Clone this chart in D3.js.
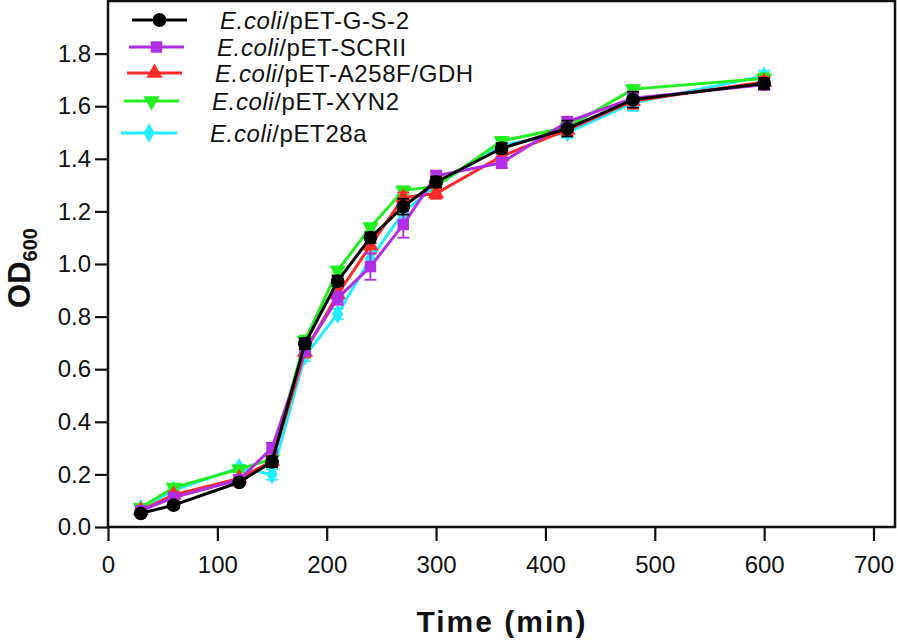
<!DOCTYPE html>
<html>
<head>
<meta charset="utf-8">
<script src="https://cdn.jsdelivr.net/npm/d3@7"></script>
<style>
  body { margin: 0; background: #fff; }
  svg { display: block; font-family: Arial, "Liberation Sans", sans-serif; }
</style>
</head>
<body>
<svg id="svg" width="898" height="641"></svg>
<script>
// time points (min)
const times = [30, 60, 120, 150, 180, 210, 240, 270, 300, 360, 420, 480, 600];

const names = ["pET-G-S-2", "pET-SCRII", "pET-A258F/GDH", "pET-XYN2", "pET28a"];
const colors = ["#000000", "#b22ee6", "#ff2a2a", "#22ee22", "#22eeff"];
const shapes = ["circle", "square", "triangle", "triangleDown", "diamond"];

// OD600 values
const gs2   = [0.052, 0.083, 0.170, 0.248, 0.697, 0.935, 1.100, 1.218, 1.312, 1.440, 1.515, 1.625, 1.686];
const scrii = [0.062, 0.112, 0.180, 0.300, 0.670, 0.870, 0.990, 1.150, 1.335, 1.385, 1.540, 1.630, 1.682];
const gdh   = [0.063, 0.122, 0.185, 0.250, 0.665, 0.885, 1.070, 1.252, 1.268, 1.410, 1.510, 1.620, 1.692];
const xyn2  = [0.073, 0.150, 0.220, 0.258, 0.708, 0.975, 1.140, 1.280, 1.295, 1.468, 1.520, 1.665, 1.705];
const et28a = [0.070, 0.140, 0.225, 0.200, 0.650, 0.810, 1.020, 1.195, 1.300, 1.450, 1.500, 1.612, 1.715];

// error bars (±)
const gs2Err   = [0.010, 0.010, 0.012, 0.020, 0.020, 0.020, 0.020, 0.030, 0.020, 0.020, 0.030, 0.030, 0.020];
const scriiErr = [0.010, 0.012, 0.012, 0.020, 0.020, 0.025, 0.050, 0.050, 0.020, 0.020, 0.020, 0.020, 0.020];
const gdhErr   = [0.010, 0.012, 0.012, 0.020, 0.020, 0.020, 0.030, 0.020, 0.020, 0.020, 0.020, 0.030, 0.020];
const xyn2Err  = [0.010, 0.012, 0.012, 0.020, 0.020, 0.015, 0.015, 0.015, 0.020, 0.015, 0.020, 0.015, 0.020];
const et28aErr = [0.010, 0.012, 0.012, 0.020, 0.020, 0.020, 0.030, 0.030, 0.020, 0.020, 0.020, 0.030, 0.020];

const xTicks = [0, 100, 200, 300, 400, 500, 600, 700];
const yTicks = [0.0, 0.2, 0.4, 0.6, 0.8, 1.0, 1.2, 1.4, 1.6, 1.8];

const series = [
  {name: names[0], values: gs2,   err: gs2Err,   color: colors[0], shape: shapes[0]},
  {name: names[1], values: scrii, err: scriiErr, color: colors[1], shape: shapes[1]},
  {name: names[2], values: gdh,   err: gdhErr,   color: colors[2], shape: shapes[2]},
  {name: names[3], values: xyn2,  err: xyn2Err,  color: colors[3], shape: shapes[3]},
  {name: names[4], values: et28a, err: et28aErr, color: colors[4], shape: shapes[4]}
];

const mLeft = 108, mRight = 895, mTop = 1, mBottom = 527;
const svg = d3.select("#svg");

const x = d3.scaleLinear().domain([0, 700]).range([mLeft, 873.5]);
const y = d3.scaleLinear().domain([0, 2.0]).range([mBottom, mTop]);

// frame
svg.append("rect").attr("x", mLeft).attr("y", mTop).attr("width", mRight - mLeft).attr("height", mBottom - mTop)
   .attr("fill", "none").attr("stroke", "#111").attr("stroke-width", 2.5);

// axes
const gx = svg.append("g").attr("transform", "translate(0," + mBottom + ")")
   .call(d3.axisBottom(x).tickValues(xTicks).tickSize(14).tickSizeOuter(0).tickPadding(15).tickFormat(d3.format("d")));
const gy = svg.append("g").attr("transform", "translate(" + mLeft + ",0)")
   .call(d3.axisLeft(y).tickValues(yTicks).tickSize(13).tickSizeOuter(0).tickPadding(4).tickFormat(d3.format(".1f")));
[gx, gy].forEach(g => {
  g.select(".domain").remove();
  g.selectAll(".tick line").attr("stroke", "#111").attr("stroke-width", 2.2);
  g.selectAll(".tick text").attr("fill", "#111").style("font-size", "24px")
   .style("font-family", "Arial, 'Liberation Sans', sans-serif");
});

function symbolPath(shape, size)
{
  const t = {circle: d3.symbolCircle, square: d3.symbolSquare, triangle: d3.symbolTriangle,
             triangleDown: d3.symbolTriangle, diamond: d3.symbolDiamond}[shape];
  return d3.symbol().type(t).size(size)();
}
const sizes = {circle: 150, square: 130, triangle: 115, triangleDown: 115, diamond: 110};

const line = d3.line().x(d => x(d.t)).y(d => y(d.v));

// draw back to front: cyan first, black last
series.slice().reverse().forEach(s => {
  const pts = times.map((t, i) => ({t: t, v: s.values[i], e: s.err[i]}));
  const g = svg.append("g");
  g.append("path").attr("d", line(pts)).attr("fill", "none").attr("stroke", s.color).attr("stroke-width", 3);
  pts.forEach(p => {
    const cx = x(p.t);
    g.append("line").attr("x1", cx).attr("x2", cx).attr("y1", y(p.v - p.e)).attr("y2", y(p.v + p.e))
     .attr("stroke", s.color).attr("stroke-width", 1.8);
    [p.v - p.e, p.v + p.e].forEach(v => {
      g.append("line").attr("x1", cx - 6).attr("x2", cx + 6).attr("y1", y(v)).attr("y2", y(v))
       .attr("stroke", s.color).attr("stroke-width", 1.8);
    });
    g.append("path").attr("d", symbolPath(s.shape, sizes[s.shape]))
     .attr("transform", "translate(" + cx + "," + y(p.v) + ")" + (s.shape === "triangleDown" ? " rotate(180)" : ""))
     .attr("fill", s.color);
  });
});

// legend (rows drift left as in the original)
const legendRows = [
  {y: 20, x0: 132, x1: 187, tx: 220},
  {y: 47, x0: 129, x1: 184, tx: 217},
  {y: 73, x0: 127, x1: 182, tx: 215},
  {y: 101, x0: 124, x1: 179, tx: 212},
  {y: 133, x0: 121, x1: 177, tx: 210}
];
series.forEach((s, i) => {
  const r = legendRows[i];
  const g = svg.append("g");
  g.append("line").attr("x1", r.x0).attr("x2", r.x1).attr("y1", r.y).attr("y2", r.y)
   .attr("stroke", s.color).attr("stroke-width", 3);
  g.append("path").attr("d", symbolPath(s.shape, sizes[s.shape]))
   .attr("transform", "translate(" + (r.x0 + r.x1) / 2 + "," + r.y + ")" + (s.shape === "triangleDown" ? " rotate(180)" : ""))
   .attr("fill", s.color);
  const t = g.append("text").attr("x", r.tx).attr("y", r.y + 9).style("font-size", "24px")
   .style("letter-spacing", "0.6px").attr("fill", "#111");
  t.append("tspan").style("font-style", "italic").text("E.coli");
  t.append("tspan").text("/" + s.name);
});

// axis titles
svg.append("text").attr("x", 502).attr("y", 632).attr("text-anchor", "middle")
   .style("font-size", "30px").style("font-weight", "bold").style("letter-spacing", "2px").attr("fill", "#111")
   .text("Time (min)");

const yl = svg.append("text").attr("transform", "translate(30,268) rotate(-90)").attr("text-anchor", "middle")
   .style("font-weight", "bold").attr("fill", "#111");
yl.append("tspan").style("font-size", "31px").text("OD");
yl.append("tspan").style("font-size", "20px").attr("dy", 7).text("600");
</script>
</body>
</html>
